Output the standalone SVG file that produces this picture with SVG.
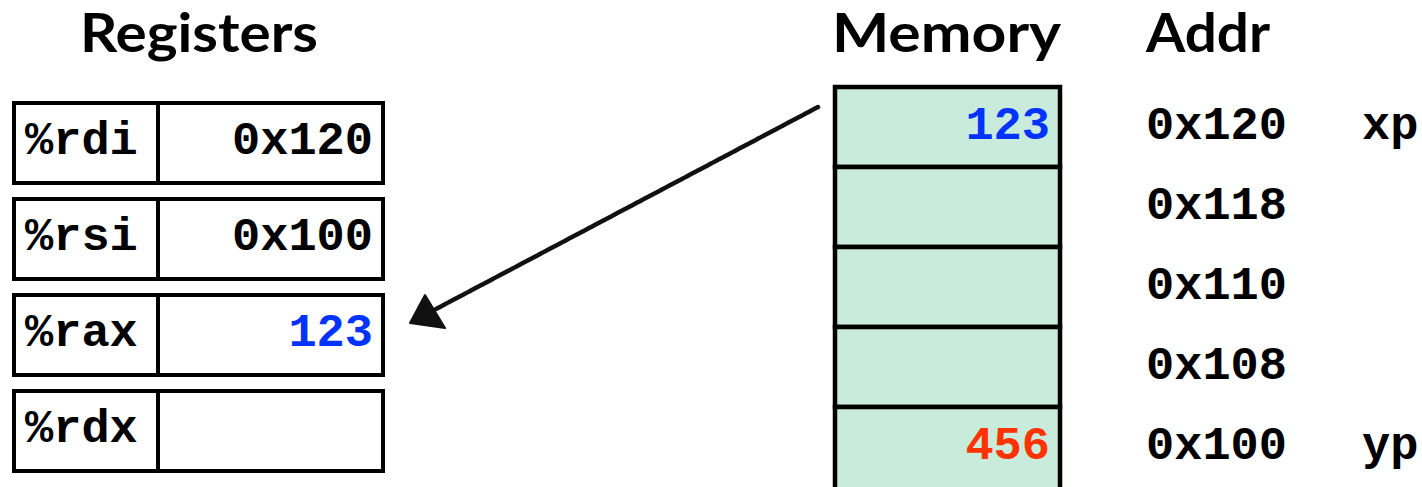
<svg xmlns="http://www.w3.org/2000/svg" width="1422" height="487" viewBox="0 0 1422 487">
<style>
.hdr{font-family:Lato,"Open Sans",sans-serif;font-weight:bold;font-size:53px;fill:#000}
.mono{font-family:"Liberation Mono","DejaVu Sans Mono",monospace;font-weight:bold;font-size:47px;fill:#000}
.end{text-anchor:end}
.blue{fill:#0033FF}
.red{fill:#FF3300}
.reg{fill:#fff;stroke:#000;stroke-width:4}
.cell{fill:#C9EBDB;stroke:#000;stroke-width:4.5}
.arrow{stroke:#111;stroke-width:4.5;fill:none;stroke-linecap:round}
</style>
<rect width="1422" height="487" fill="#fff"/>
<g id="headers">
<text class="hdr" x="80" y="52" textLength="238" lengthAdjust="spacingAndGlyphs">Registers</text>
<text class="hdr" x="832" y="52" textLength="229" lengthAdjust="spacingAndGlyphs">Memory</text>
<text class="hdr" x="1146" y="52" textLength="124" lengthAdjust="spacingAndGlyphs">Addr</text>
</g>
<g id="reg-rdi">
<rect class="reg" x="14" y="103" width="369" height="80"/>
<line x1="158" y1="103" x2="158" y2="183" stroke="#000" stroke-width="4"/>
<text class="mono" x="25" y="154">%rdi</text>
<text class="mono end" x="373" y="154">0x120</text>
</g>
<g id="reg-rsi">
<rect class="reg" x="14" y="199" width="369" height="80"/>
<line x1="158" y1="199" x2="158" y2="279" stroke="#000" stroke-width="4"/>
<text class="mono" x="25" y="250">%rsi</text>
<text class="mono end" x="373" y="250">0x100</text>
</g>
<g id="reg-rax">
<rect class="reg" x="14" y="295" width="369" height="80"/>
<line x1="158" y1="295" x2="158" y2="375" stroke="#000" stroke-width="4"/>
<text class="mono" x="25" y="346">%rax</text>
<text class="mono end blue" x="373" y="346">123</text>
</g>
<g id="reg-rdx">
<rect class="reg" x="14" y="391" width="369" height="80"/>
<line x1="158" y1="391" x2="158" y2="471" stroke="#000" stroke-width="4"/>
<text class="mono" x="25" y="442">%rdx</text>
</g>
<g id="mem-0x120">
<rect class="cell" x="835" y="87" width="225" height="80"/>
<text class="mono end blue" x="1050" y="139">123</text>
<text class="mono" x="1146" y="139">0x120</text>
<text class="mono" x="1362" y="139">xp</text>
</g>
<g id="mem-0x118">
<rect class="cell" x="835" y="167" width="225" height="80"/>
<text class="mono" x="1146" y="219">0x118</text>
</g>
<g id="mem-0x110">
<rect class="cell" x="835" y="247" width="225" height="80"/>
<text class="mono" x="1146" y="299">0x110</text>
</g>
<g id="mem-0x108">
<rect class="cell" x="835" y="327" width="225" height="80"/>
<text class="mono" x="1146" y="379">0x108</text>
</g>
<g id="mem-0x100">
<rect class="cell" x="835" y="407" width="225" height="86"/>
<text class="mono end red" x="1050" y="459">456</text>
<text class="mono" x="1146" y="459">0x100</text>
<text class="mono" x="1362" y="459">yp</text>
</g>
<g id="connectors">
<line class="arrow" x1="818" y1="107" x2="436" y2="309" stroke-dasharray="5 1"/>
<polygon points="425,295 410,323 445,328" fill="#111" stroke="#111" stroke-width="2" stroke-linejoin="round"/>
</g>
</svg>
